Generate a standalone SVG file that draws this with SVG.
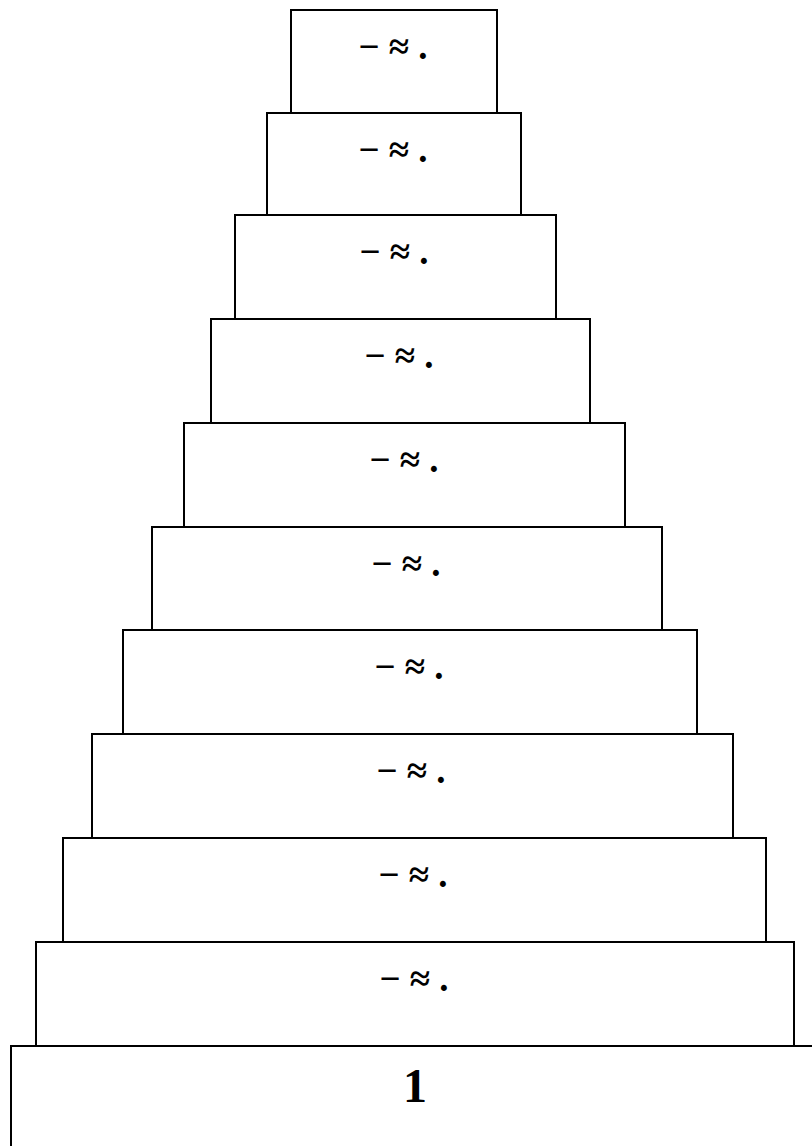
<svg xmlns="http://www.w3.org/2000/svg" width="812" height="1146" viewBox="0 0 812 1146">
<style>
.box{fill:#fff;stroke:#000;stroke-width:2}
.t{font-family:"Liberation Serif","Times New Roman",serif;font-weight:bold;font-size:37px;text-anchor:middle;fill:#000}
.n{font-family:"Liberation Serif","Times New Roman",serif;font-weight:bold;font-size:48px;text-anchor:middle;fill:#000}
</style>
<rect x="0" y="0" width="812" height="1146" fill="#fff"/>
<g id="level11"><rect class="box" x="11" y="1046" width="820" height="120"/><text class="n" x="415" y="1102">1</text></g>
<g id="level10"><rect class="box" x="36" y="942" width="758" height="104"/><text class="t" x="414" y="991">− ≈ .</text></g>
<g id="level9"><rect class="box" x="63" y="838" width="703" height="104"/><text class="t" x="413" y="887">− ≈ .</text></g>
<g id="level8"><rect class="box" x="92" y="734" width="641" height="104"/><text class="t" x="411" y="783">− ≈ .</text></g>
<g id="level7"><rect class="box" x="123" y="630" width="574" height="104"/><text class="t" x="409" y="679">− ≈ .</text></g>
<g id="level6"><rect class="box" x="152" y="527" width="510" height="103"/><text class="t" x="406" y="576">− ≈ .</text></g>
<g id="level5"><rect class="box" x="184" y="423" width="441" height="104"/><text class="t" x="404" y="472">− ≈ .</text></g>
<g id="level4"><rect class="box" x="211" y="319" width="379" height="104"/><text class="t" x="399" y="368">− ≈ .</text></g>
<g id="level3"><rect class="box" x="235" y="215" width="321" height="104"/><text class="t" x="394" y="264">− ≈ .</text></g>
<g id="level2"><rect class="box" x="267" y="113" width="254" height="102"/><text class="t" x="393" y="162">− ≈ .</text></g>
<g id="level1"><rect class="box" x="291" y="10" width="206" height="103"/><text class="t" x="393" y="59">− ≈ .</text></g>
<g id="connectors"></g>
</svg>
